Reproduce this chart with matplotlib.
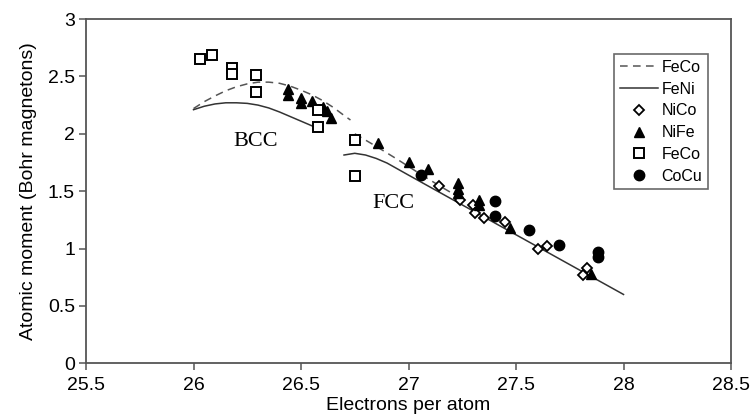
import matplotlib.pyplot as plt

plt.rcParams['font.family'] = ['Liberation Sans', 'DejaVu Sans']

# calculated curves (FeCo dashed, FeNi solid), bcc and fcc branches
feco_bcc_x = [26.0, 26.05, 26.1, 26.15, 26.2, 26.25, 26.3, 26.35, 26.4, 26.45, 26.5, 26.55, 26.6, 26.65, 26.7, 26.73]
feco_bcc_y = [2.22, 2.28, 2.33, 2.375, 2.41, 2.435, 2.45, 2.45, 2.44, 2.415, 2.38, 2.34, 2.29, 2.23, 2.16, 2.12]
feco_fcc_x = [26.75, 26.85, 26.95, 27.05, 27.15, 27.25]
feco_fcc_y = [2.0, 1.89, 1.775, 1.655, 1.54, 1.43]

feni_bcc_x = [26.0, 26.05, 26.1, 26.15, 26.2, 26.25, 26.3, 26.35, 26.4, 26.45, 26.5, 26.55, 26.57]
feni_bcc_y = [2.21, 2.24, 2.26, 2.27, 2.27, 2.265, 2.25, 2.225, 2.19, 2.15, 2.11, 2.07, 2.055]
feni_fcc_x = [26.7, 26.75, 26.8, 26.85, 26.9, 27.0, 27.5, 28.0]
feni_fcc_y = [1.815, 1.83, 1.815, 1.785, 1.745, 1.64, 1.12, 0.6]

# measured moments
nico_x = [27.14, 27.24, 27.3, 27.31, 27.35, 27.45, 27.6, 27.645, 27.81, 27.83]
nico_y = [1.545, 1.42, 1.38, 1.31, 1.265, 1.235, 0.995, 1.025, 0.77, 0.83]

nife_x = [26.44, 26.44, 26.5, 26.5, 26.55, 26.6, 26.62, 26.64, 26.86, 27.0, 27.09,
          27.23, 27.23, 27.23, 27.33, 27.33, 27.47, 27.85]
nife_y = [2.39, 2.34, 2.31, 2.27, 2.29, 2.23, 2.2, 2.14, 1.92, 1.75, 1.69,
          1.57, 1.52, 1.48, 1.42, 1.38, 1.18, 0.78]

feco_x = [26.03, 26.085, 26.18, 26.18, 26.29, 26.29, 26.58, 26.58, 26.75, 26.75]
feco_y = [2.65, 2.685, 2.57, 2.52, 2.51, 2.36, 2.21, 2.06, 1.945, 1.635]

cocu_x = [27.06, 27.4, 27.4, 27.56, 27.7, 27.88, 27.88]
cocu_y = [1.64, 1.41, 1.28, 1.16, 1.03, 0.97, 0.93]

fig = plt.figure(figsize=(7.52, 4.19), dpi=100)
ax = fig.add_axes([0.1144, 0.1329, 0.8577, 0.8217])

line_col = '#333333'
ax.plot(feco_bcc_x, feco_bcc_y, color='#555555', lw=1.1, dashes=(5, 3.5), label='FeCo')
ax.plot(feco_fcc_x, feco_fcc_y, color='#555555', lw=1.1, dashes=(5, 3.5))
ax.plot(feni_bcc_x, feni_bcc_y, color=line_col, lw=1.1, label='FeNi')
ax.plot(feni_fcc_x, feni_fcc_y, color=line_col, lw=1.1)

ax.plot(nico_x, nico_y, ls='none', marker='D', ms=5, mfc='white', mec='black', mew=1.3, label='NiCo')
ax.plot(nife_x, nife_y, ls='none', marker='^', ms=7, mfc='black', mec='black', label='NiFe')
ax.plot(feco_x, feco_y, ls='none', marker='s', ms=7, mfc='white', mec='black', mew=1.4, label='FeCo')
ax.plot(cocu_x, cocu_y, ls='none', marker='o', ms=7.5, mfc='black', mec='black', label='CoCu')

ax.text(26.29, 1.93, 'BCC', family='Liberation Serif', fontsize=16, ha='center', va='center')
ax.text(26.93, 1.39, 'FCC', family='Liberation Serif', fontsize=16, ha='center', va='center')

ax.set_xlim(25.5, 28.5)
ax.set_ylim(0, 3)
ax.set_xticks([25.5, 26, 26.5, 27, 27.5, 28, 28.5])
ax.set_xticklabels(['25.5', '26', '26.5', '27', '27.5', '28', '28.5'])
ax.set_yticks([0, 0.5, 1, 1.5, 2, 2.5, 3])
ax.set_yticklabels(['0', '0.5', '1', '1.5', '2', '2.5', '3'])
ax.tick_params(labelsize=14, length=5, width=1.1, color='#555555', pad=3)
ax.tick_params(axis='x', pad=5)
for sp in ax.spines.values():
    sp.set_color('#555555')
    sp.set_linewidth(1.3)

ax.set_xlabel('Electrons per atom', fontsize=14, labelpad=2)
ax.set_ylabel('Atomic moment (Bohr magnetons)', fontsize=14, labelpad=8)

leg = ax.legend(loc='upper left', bbox_to_anchor=(0.819, 0.897), fontsize=11.5,
                frameon=True, fancybox=False, handlelength=2.4, handletextpad=0.2,
                labelspacing=0.42, borderpad=0.35, borderaxespad=0)
leg.get_frame().set_edgecolor('#444444')
leg.get_frame().set_linewidth(1.2)

fig.savefig('out.png', dpi=100)
